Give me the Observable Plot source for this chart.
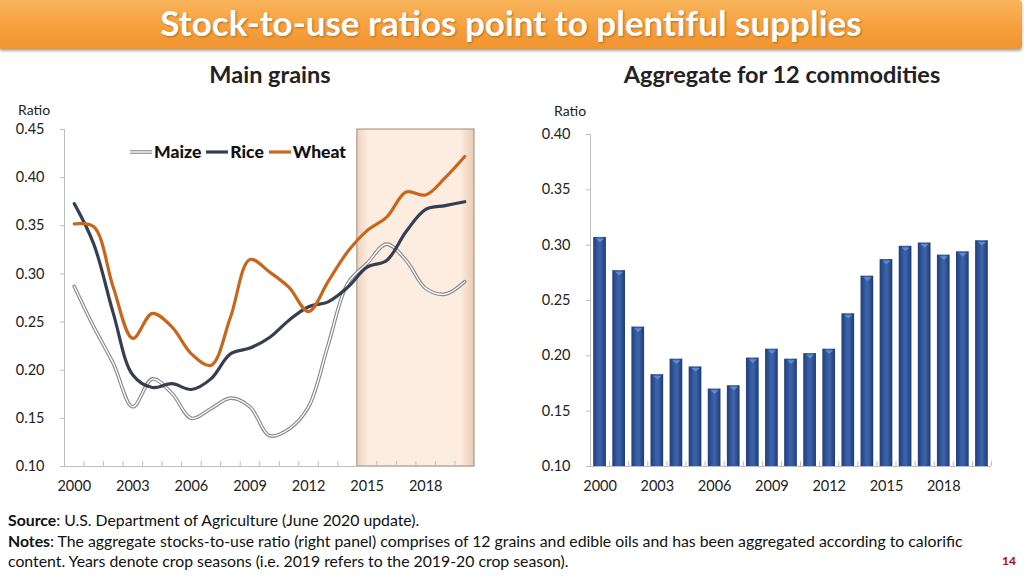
<!DOCTYPE html>
<html><head><meta charset="utf-8">
<script src="https://cdn.jsdelivr.net/npm/d3@7"></script>
<script src="https://cdn.jsdelivr.net/npm/@observablehq/plot@0.6"></script>
<style>
body{margin:0;width:1024px;height:576px;overflow:hidden;background:#fff;font-family:Lato,"Open Sans",sans-serif;position:relative;color:#222}
#title{position:absolute;left:0;top:0;width:1022px;height:49px;background:linear-gradient(#F9B45C,#F6A03D 55%,#EF9430);box-shadow:0 2px 3px rgba(0,0,0,0.35);border-radius:0 3px 3px 0}
#title span{position:absolute;left:0;right:0;top:1px;text-align:center;color:#fff;font-weight:700;font-size:35px;text-shadow:1px 1px 2px rgba(120,60,0,0.5);white-space:nowrap}
.sub{position:absolute;top:60px;font-weight:700;font-size:23.5px;color:#222;text-align:center;white-space:nowrap}
.ratio{position:absolute;font-size:14px;color:#222}
.panel{position:absolute;top:100px}
#legend{position:absolute;left:128px;top:141px;font-weight:900;font-size:17.5px;color:#111;display:flex;align-items:center;white-space:nowrap}
#legend svg{margin:0 1px}
#foot{position:absolute;left:8px;top:510px;font-size:15.8px;line-height:20.5px;color:#111;white-space:nowrap}
#page{position:absolute;left:1002px;top:553px;font-size:12px;font-weight:700;color:#C00000}
</style></head>
<body>
<div id="title"><span>Stock-to-use ratios point to plentiful supplies</span></div>
<div class="sub" style="left:120px;width:300px">Main grains</div>
<div class="sub" style="left:582px;width:400px">Aggregate for 12 commodities</div>
<div class="ratio" style="left:18px;top:101px">Ratio</div>
<div class="ratio" style="left:554px;top:102px">Ratio</div>
<div class="panel" id="left" style="left:0"></div>
<div class="panel" id="right" style="left:512px"></div>
<div id="legend"></div>
<div id="foot"><b>Source</b>: U.S. Department of Agriculture (June 2020 update).<br><b>Notes</b>: The aggregate stocks-to-use ratio (right panel) comprises of 12 grains and edible oils and has been aggregated according to calorific<br>content. Years denote crop seasons (i.e. 2019 refers to the 2019-20 crop season).</div>
<div id="page">14</div>
<script>
// ---- data ----
const years = [2000,2001,2002,2003,2004,2005,2006,2007,2008,2009,2010,2011,2012,2013,2014,2015,2016,2017,2018,2019,2020];
const maize = [0.287,0.245,0.207,0.162,0.191,0.176,0.150,0.160,0.171,0.162,0.132,0.139,0.162,0.226,0.290,0.311,0.331,0.314,0.285,0.279,0.292];
const rice  = [0.373,0.331,0.259,0.195,0.182,0.186,0.180,0.191,0.217,0.223,0.234,0.252,0.266,0.271,0.286,0.307,0.314,0.344,0.367,0.371,0.375];
const wheat = [0.352,0.349,0.286,0.233,0.259,0.245,0.217,0.205,0.255,0.315,0.302,0.286,0.261,0.292,0.323,0.345,0.359,0.385,0.382,0.400,0.422];
const aggregate = [0.307,0.277,0.226,0.183,0.197,0.190,0.170,0.173,0.198,0.206,0.197,0.202,0.206,0.238,0.272,0.287,0.299,0.302,0.291,0.294,0.304];
const labelYears = [2000,2003,2006,2009,2012,2015,2018];
const leftTicks = [0.10,0.15,0.20,0.25,0.30,0.35,0.40,0.45];
const rightTicks = [0.10,0.15,0.20,0.25,0.30,0.35,0.40];
const highlightYears = [2015,2020];
const seriesNames = ["Maize","Rice","Wheat"];
const colors = {Maize:"#8a8a8a", Rice:"#363E52", Wheat:"#C9661C"};

const font = "Lato, 'Open Sans', sans-serif";
const boundaries = years.map(y => y - 0.5).concat([years[years.length-1] + 0.5]);
const xDomain = [years[0] - 0.5, years[years.length-1] + 0.5];
const rows = s => years.map((y,i) => ({year:y, value:s[i]}));

// ---- left chart ----
const left = Plot.plot({
  width:500, height:400, marginLeft:64, marginRight:26, marginTop:29, marginBottom:34,
  style:{fontFamily:font, fontSize:"14.5px", color:"#222", background:"transparent"},
  x:{type:"linear", domain:xDomain, label:null},
  y:{domain:[0.10,0.45], label:null},
  marks:[
    Plot.rect([{a:highlightYears[0]-0.5, b:highlightYears[1]+0.5}], {x1:"a", x2:"b", y1:0.10, y2:0.45, fill:"url(#hl)", stroke:"#9d8b7d", strokeWidth:1}),
    Plot.ruleX([xDomain[0]], {stroke:"#bdbdbd"}),
    Plot.ruleY([0.10], {stroke:"#bdbdbd", insetLeft:-4}),
    Plot.ruleX(boundaries, {y1:0.10, y2:0.10, insetTop:-5, stroke:"#bdbdbd"}),
    Plot.axisY({ticks:leftTicks, tickSize:4, stroke:"#bdbdbd", text:null, label:null}),
    Plot.axisY({ticks:leftTicks, tickSize:0, tickPadding:20, tickFormat:d3.format(".2f"), label:null}),
    Plot.axisX({ticks:labelYears, tickSize:0, tickPadding:14, tickFormat:d => String(d), label:null}),
    Plot.line(rows(maize), {x:"year", y:"value", stroke:colors.Maize, strokeWidth:3.6, curve:"catmull-rom"}),
    Plot.line(rows(maize), {x:"year", y:"value", stroke:"#ffffff", strokeWidth:1.3, curve:"catmull-rom"}),
    Plot.line(rows(rice), {x:"year", y:"value", stroke:colors.Rice, strokeWidth:3.2, curve:"catmull-rom"}),
    Plot.line(rows(wheat), {x:"year", y:"value", stroke:colors.Wheat, strokeWidth:3.2, curve:"catmull-rom"})
  ]
});
const ld = d3.select(left).insert("defs", ":first-child");
const hl = ld.append("linearGradient").attr("id","hl").attr("x1",0).attr("x2",1).attr("y1",0).attr("y2",0);
[[0,"#EFD3BE"],[0.1,"#FDEDE0"],[0.88,"#FDEDE0"],[1,"#EACBB4"]].forEach(([o,c]) => hl.append("stop").attr("offset",o).attr("stop-color",c));
document.getElementById("left").appendChild(left);

// ---- right chart ----
const flatTriangle = {draw(ctx, size){ const w = Math.sqrt(size)*1.1, h = w*0.45; ctx.moveTo(-w/2,-h/2); ctx.lineTo(w/2,-h/2); ctx.lineTo(0,h/2); ctx.closePath(); }};
const right = Plot.plot({
  width:500, height:400, marginLeft:78, marginRight:21, marginTop:34, marginBottom:34,
  style:{fontFamily:font, fontSize:"14.5px", color:"#222", background:"transparent"},
  x:{type:"linear", domain:xDomain, label:null},
  y:{domain:[0.10,0.40], label:null},
  marks:[
    Plot.rectY(rows(aggregate), {x1:d => d.year - 0.5, x2:d => d.year + 0.5, y1:0.10, y2:"value", insetLeft:3.2, insetRight:3.2, fill:"url(#bar)"}),
    Plot.dot(rows(aggregate), {x:"year", y:"value", symbol:flatTriangle, r:4.2, fill:"#5E8BD0", stroke:null, dy:3}),
    Plot.ruleX([xDomain[0]], {stroke:"#bdbdbd"}),
    Plot.ruleY([0.10], {stroke:"#bdbdbd", insetLeft:-4}),
    Plot.ruleX(boundaries, {y1:0.10, y2:0.10, insetTop:-5, stroke:"#bdbdbd"}),
    Plot.axisY({ticks:rightTicks, tickSize:4, stroke:"#bdbdbd", text:null, label:null}),
    Plot.axisY({ticks:rightTicks, tickSize:0, tickPadding:20, tickFormat:d3.format(".2f"), label:null}),
    Plot.axisX({ticks:labelYears, tickSize:0, tickPadding:14, tickFormat:d => String(d), label:null})
  ]
});
const rd = d3.select(right).insert("defs", ":first-child");
const bg = rd.append("linearGradient").attr("id","bar").attr("x1",0).attr("x2",1).attr("y1",0).attr("y2",0);
[[0,"#203E7A"],[0.45,"#3A61A8"],[0.6,"#3A61A8"],[1,"#1E3A72"]].forEach(([o,c]) => bg.append("stop").attr("offset",o).attr("stop-color",c));
document.getElementById("right").appendChild(right);

// ---- legend ----
const lg = document.getElementById("legend");
seriesNames.forEach(n => {
  const sw = n === "Maize"
    ? `<svg width="24" height="10"><line x1="1" y1="5" x2="23" y2="5" stroke="${colors.Maize}" stroke-width="3.6"/><line x1="1" y1="5" x2="23" y2="5" stroke="#fff" stroke-width="1.3"/></svg>`
    : `<svg width="24" height="10"><line x1="1" y1="5" x2="23" y2="5" stroke="${colors[n]}" stroke-width="3.2"/></svg>`;
  const item = document.createElement("span");
  item.style.display = "flex"; item.style.alignItems = "center"; item.style.marginRight = "3px";
  item.innerHTML = sw + `<span>${n}</span>`;
  lg.appendChild(item);
});
</script>
</body></html>
